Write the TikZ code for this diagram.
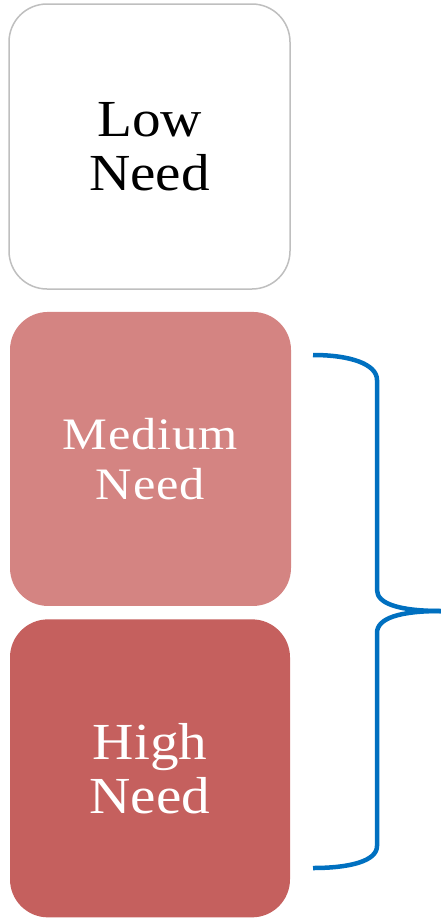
\documentclass[tikz,border=0pt]{standalone}
\usepackage{fontspec}
\setmainfont[FakeStretch=1.1]{Liberation Serif}
\newfontfamily\medfont[FakeStretch=1.12, LetterSpace=2]{Liberation Serif}
\usepackage{xcolor}
\usetikzlibrary{positioning}
\definecolor{lowline}{HTML}{BFBFBF}
\definecolor{medfill}{HTML}{D48482}
\definecolor{highfill}{HTML}{C5605E}
\definecolor{braceblue}{HTML}{0070C0}

\begin{document}
\begin{tikzpicture}[
    x=1pt, y=-1pt,
    needbox/.style={rectangle, rounded corners=38pt, minimum width=281pt, align=center, inner sep=0pt},
    bigtext/.style={font=\fontsize{52}{54}\selectfont},
    brace/.style={draw=braceblue, line width=4.5pt, line join=round}
]
\useasboundingbox (0,0) rectangle (441,918);
\node[needbox, draw=lowline, line width=1.5pt, fill=white, minimum height=285pt, bigtext] (low) at (149.5,146.5) {Low\\Need};
\node[needbox, fill=medfill, minimum height=294pt, text=white, font=\medfont\fontsize{45}{50}\selectfont, below=22pt of low, xshift=1pt] (medium) {Medium\\Need};
\node[needbox, fill=highfill, minimum height=298pt, minimum width=280pt, text=white, bigtext, below=13pt of medium, xshift=-0.5pt] (high) {High\\Need};

% curly brace round medium and high
\coordinate (btop) at (313,355);
\coordinate (btip) at (441,611);
\coordinate (bbot) at (313,868);
\draw[brace] (btop) .. controls (350,355) and (377,364) .. (377,380) -- (377,590)
    .. controls (377,604) and (400,611) .. (btip);
\draw[brace] (btip) .. controls (400,611) and (377,618) .. (377,633) -- (377,846)
    .. controls (377,861) and (350,868) .. (bbot);
\end{tikzpicture}
\end{document}
